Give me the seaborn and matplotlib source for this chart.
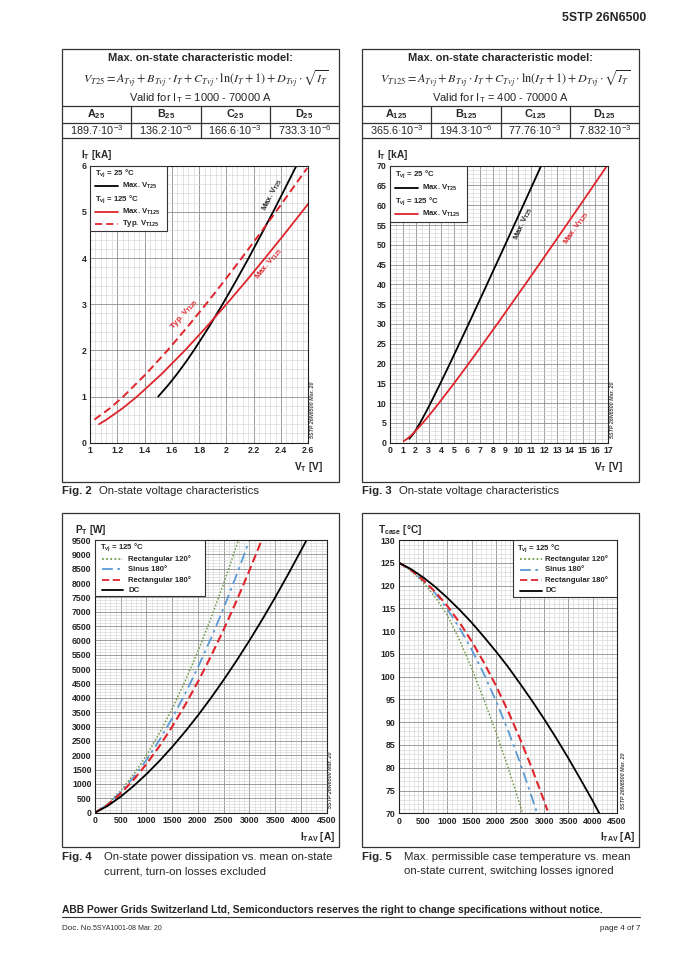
import numpy as np
import pandas as pd
import seaborn as sns
import matplotlib.pyplot as plt
from matplotlib.patches import Rectangle
from matplotlib.lines import Line2D
from matplotlib.ticker import MultipleLocator

# Fig. 2 / Fig. 3 : on-state characteristics (I in kA, V in V)
it25_ka = [1.0, 1.25, 1.5, 1.75, 2.0, 2.5, 3.0, 3.5, 4.0, 4.5, 5.0, 5.5, 6.0]
vt25 = [1.500, 1.574, 1.641, 1.703, 1.761, 1.870, 1.972, 2.069, 2.163, 2.253, 2.342, 2.428, 2.513]
it125_ka = [0.4, 0.5, 0.75, 1.0, 1.5, 2.0, 2.5, 3.0, 3.5, 4.0, 4.5, 5.0, 5.2]
vt125 = [1.066, 1.121, 1.241, 1.345, 1.529, 1.696, 1.851, 2.000, 2.144, 2.283, 2.420, 2.553, 2.606]
typ_i_ka = [0.5, 0.75, 1.0, 1.5, 2.0, 2.5, 3.0, 3.5, 4.0, 4.5, 5.0, 5.5, 5.95]
typ_v = [1.032, 1.148, 1.244, 1.414, 1.568, 1.712, 1.850, 1.983, 2.112, 2.238, 2.362, 2.483, 2.592]

big25_ka = [1, 2, 3, 5, 7.5, 10, 15, 20, 30, 40, 50, 60, 70]
big25_v = [1.500, 1.761, 1.972, 2.342, 2.761, 3.160, 3.925, 4.667, 6.120, 7.550, 8.966, 10.374, 11.776]
big125_ka = [0.4, 1, 2, 3, 5, 7.5, 10, 15, 20, 30, 40, 50, 60, 70]
big125_v = [1.066, 1.345, 1.696, 2.000, 2.553, 3.195, 3.808, 4.987, 6.129, 8.353, 10.528, 12.673, 14.798, 16.906]

# Fig. 4 : on-state power dissipation (A, W)
i_dc = [0, 250, 500, 750, 1000, 1250, 1500, 1750, 2000, 2250, 2500, 2750, 3000, 3250, 3500, 3750, 4000, 4110]
p_dc = [0, 242, 561, 931, 1345, 1800, 2294, 2824, 3391, 3993, 4629, 5298, 6000, 6735, 7503, 8302, 9132, 9500]
i_r180 = [0, 250, 500, 750, 1000, 1250, 1500, 1750, 2000, 2250, 2500, 2750, 3000, 3238]
p_r180 = [0, 280, 672, 1147, 1696, 2314, 3000, 3751, 4566, 5444, 6383, 7383, 8444, 9500]
i_sin = [0, 250, 500, 750, 1000, 1250, 1500, 1750, 2000, 2250, 2500, 2750, 2990]
p_sin = [0, 294, 716, 1233, 1839, 2527, 3296, 4143, 5066, 6064, 7137, 8283, 9450]
i_r120 = [0, 250, 500, 750, 1000, 1250, 1500, 1750, 2000, 2250, 2500, 2785]
p_r120 = [0, 310, 765, 1331, 2000, 2767, 3629, 4584, 5629, 6764, 7988, 9500]

# Fig. 5 : max case temperature (A, degC)
ic_dc = [0, 250, 500, 750, 1000, 1250, 1500, 1750, 2000, 2250, 2500, 2750, 3000, 3250, 3500, 3750, 4000, 4140]
tc_dc = [125, 123.6, 121.8, 119.7, 117.3, 114.7, 111.9, 108.8, 105.6, 102.2, 98.5, 94.7, 90.7, 86.5, 82.1, 77.5, 72.8, 70.0]
ic_r180 = [0, 250, 500, 750, 1000, 1250, 1500, 1750, 2000, 2250, 2500, 2750, 3000, 3070]
tc_r180 = [125, 123.4, 121.2, 118.6, 115.5, 111.9, 107.8, 103.2, 98.1, 92.5, 86.4, 79.8, 72.7, 70.6]
ic_sin = [0, 250, 500, 750, 1000, 1250, 1500, 1750, 2000, 2250, 2500, 2750, 2855]
tc_sin = [125, 123.4, 121.1, 118.3, 114.8, 110.7, 106.0, 100.7, 94.8, 88.3, 81.2, 73.4, 70.0]
ic_r120 = [0, 250, 500, 750, 1000, 1250, 1500, 1750, 2000, 2250, 2500, 2560]
tc_r120 = [125, 123.2, 120.7, 117.4, 113.5, 108.0, 101.9, 95.1, 87.9, 80.2, 71.9, 70.0]

# model tables
heads25 = ['A', 'B', 'C', 'D']
vals25 = ['189.7·10$^{-3}$', '136.2·10$^{-6}$', '166.6·10$^{-3}$', '733.3·10$^{-6}$']
vals125 = ['365.6·10$^{-3}$', '194.3·10$^{-6}$', '77.76·10$^{-3}$', '7.832·10$^{-3}$']

RED = '#e0242c'
BLUE = '#5b9bd5'
GREEN = '#6f9a48'
EDGE = '#333333'

sns.set_theme(style='white')
plt.rcParams['font.family'] = ['Liberation Sans', 'DejaVu Sans']
plt.rcParams['mathtext.fontset'] = 'custom'
plt.rcParams['mathtext.rm'] = 'Liberation Sans'
plt.rcParams['mathtext.it'] = 'Liberation Sans:italic'
plt.rcParams['mathtext.bf'] = 'Liberation Sans:bold'

W, H = 679, 960
fig = plt.figure(figsize=(W / 100, H / 100), dpi=100)
TICK_FS = 6.3
LEG_FS = 5.6
LAB_FS = 7.2


def sub(base, s):
    # subscript in the same (bold) font as the surrounding text
    return base + r'$_{\mathregular{' + s + '}}$'


def fx(x):
    return x / W


def fy(y):
    return 1 - y / H


def ftext(x, y, s, **kw):
    kw.setdefault('va', 'center')
    fig.text(fx(x), fy(y), s, **kw)


def fline(x0, y0, x1, y1, lw=0.9):
    fig.add_artist(Line2D([fx(x0), fx(x1)], [fy(y0), fy(y1)], transform=fig.transFigure, color=EDGE, lw=lw))


def fbox(x0, y0, x1, y1):
    fig.add_artist(Rectangle((fx(x0), fy(y1)), (x1 - x0) / W, (y1 - y0) / H, transform=fig.transFigure,
                             fill=False, ec=EDGE, lw=0.9))


def make_axes(b):
    x0, y0, x1, y1 = b
    return fig.add_axes([fx(x0), fy(y1), (x1 - x0) / W, (y1 - y0) / H])


def setup(ax, xlim, ylim, xticks, xlabels, yticks, xminor, yminor):
    ax.set_xlim(*xlim)
    ax.set_ylim(*ylim)
    ax.set_xticks(xticks, xlabels, fontweight='bold', fontsize=TICK_FS)
    ax.set_yticks(yticks, [str(t) for t in yticks], fontweight='bold', fontsize=TICK_FS)
    ax.xaxis.set_minor_locator(MultipleLocator(xminor))
    ax.yaxis.set_minor_locator(MultipleLocator(yminor))
    ax.grid(which='minor', color='#d2d2d2', lw=0.4)
    ax.grid(which='major', color='#8e8e8e', lw=0.6)
    ax.set_axisbelow(True)
    ax.tick_params(which='both', length=0, pad=2.5)
    for s in ax.spines.values():
        s.set_color('#222222')
        s.set_linewidth(0.8)


def legend_box(ax, b, rect, rows, fs=LEG_FS):
    x0, y0, x1, y1 = b

    def ax_xy(x, y):
        return (x - x0) / (x1 - x0), (y1 - y) / (y1 - y0)

    rx0, ry0, rx1, ry1 = rect
    px, py = ax_xy(rx0, ry1)
    qx, qy = ax_xy(rx1, ry0)
    ax.add_patch(Rectangle((px, py), qx - px, qy - py, transform=ax.transAxes, fc='white', ec=EDGE,
                           lw=0.8, zorder=5))
    for row in rows:
        if row[0] == 'head':
            _, hx, hy, txt = row
            tx, ty = ax_xy(hx, hy)
            ax.text(tx, ty, txt, transform=ax.transAxes, fontsize=fs, fontweight='bold', va='center',
                    zorder=6)
        else:
            _, lx0, lx1, tx_, yy, txt, color, ls = row
            a0, ay = ax_xy(lx0, yy)
            a1, _ = ax_xy(lx1, yy)
            ln = Line2D([a0, a1], [ay, ay], transform=ax.transAxes, color=color, lw=1.3, zorder=6)
            if ls is not None:
                ln.set_dashes(ls)
            ax.add_line(ln)
            tx, _ = ax_xy(tx_, yy)
            ax.text(tx, ay, txt, transform=ax.transAxes, fontsize=fs, fontweight='bold', va='center',
                    zorder=6)


def table(x0, x1, tsub, formula_lhs, valid, vals):
    xc = (x0 + x1) / 2
    ftext(xc, 58, 'Max. on-state characteristic model:', ha='center', fontsize=7.9, fontweight='bold')
    ftext(xc + 5, 78.5, r'$' + formula_lhs + r' = A_{Tvj} + B_{Tvj}\cdot I_T + C_{Tvj}\cdot \ln(I_T + 1)'
          r' + D_{Tvj}\cdot\sqrt{I_T}$', ha='center', fontsize=8.7, math_fontfamily='stix')
    ftext(xc, 98.5, valid, ha='center', fontsize=8.0)
    for y in (105.7, 123, 137.7):
        fline(x0, y, x1, y)
    cw = (x1 - x0) / 4
    for k in range(1, 4):
        fline(x0 + k * cw, 105.7, x0 + k * cw, 137.7)
    for k in range(4):
        cx = x0 + (k + 0.5) * cw
        ftext(cx, 114.5, sub(heads25[k], tsub), ha='center', fontsize=7.8, fontweight='bold')
        ftext(cx, 130.5, vals[k], ha='center', fontsize=7.8)


# ---- page header / frames ----
ftext(646, 18, '5STP 26N6500', ha='right', fontsize=8.8, fontweight='bold')
fbox(62, 49, 339, 482)
fbox(362, 49, 639, 482)
fbox(62, 513, 339, 847)
fbox(362, 513, 639, 847)

table(62, 339, '25', r'\mathbf{\mathit{V}}_{\mathbf{\mathit{T25}}}', sub('Valid for I', 'T') + ' = 1000 - 70000 A',
      vals25)
table(362, 639, '125', r'\mathbf{\mathit{V}}_{\mathbf{\mathit{T125}}}', sub('Valid for I', 'T') + ' = 400 - 70000 A',
      vals125)

# ---- Fig. 2 ----
b2 = (90, 165.7, 308.3, 442.7)
ax2 = make_axes(b2)
setup(ax2, (1, 2.6), (0, 6), np.round(np.arange(1, 2.61, 0.2), 1),
      ['1', '1.2', '1.4', '1.6', '1.8', '2', '2.2', '2.4', '2.6'], list(range(0, 7)), 0.04, 0.2)
sns.lineplot(x=vt25, y=it25_ka, ax=ax2, color='black', lw=1.3, sort=False, estimator=None)
sns.lineplot(x=vt125, y=it125_ka, ax=ax2, color=RED, lw=1.3, sort=False, estimator=None)
sns.lineplot(x=typ_v, y=typ_i_ka, ax=ax2, color=RED, lw=1.4, sort=False, estimator=None)
ax2.lines[-1].set_dashes([4, 2.2])
ax2.text(2.335, 5.38, sub('Max. V', 'T25'), rotation=63, fontsize=LEG_FS, fontweight='bold',
         ha='center', va='center')
ax2.text(2.315, 3.87, sub('Max. V', 'T125'), rotation=51, fontsize=LEG_FS, fontweight='bold',
         color=RED, ha='center', va='center')
ax2.text(1.69, 2.78, sub('Typ. V', 'T125'), rotation=49, fontsize=LEG_FS, fontweight='bold',
         color=RED, ha='center', va='center')
legend_box(ax2, b2, (90, 165.7, 167, 231), [
    ('head', 95, 173, sub('T', 'vj') + ' = 25 °C'),
    ('line', 95, 118, 121.7, 186.3, sub('Max. V', 'T25'), 'black', None),
    ('head', 95, 199, sub('T', 'vj') + ' = 125 °C'),
    ('line', 95, 118, 121.7, 211.5, sub('Max. V', 'T125'), RED, None),
    ('line', 95, 118, 121.7, 223.8, sub('Typ. V', 'T125'), RED, [4, 2.2]),
])
ftext(81, 155, sub('I', 'T') + ' [kA]', fontsize=LAB_FS, fontweight='bold')
ftext(323, 467, sub('V', 'T') + ' [V]', ha='right', fontsize=LAB_FS, fontweight='bold')
ftext(312.5, 410, '5STP 26N6500 Mar. 20', rotation=90, ha='center', fontsize=3.9, fontstyle='italic',
      fontweight='bold', color='#444444')

# ---- Fig. 3 ----
b3 = (390, 165.7, 608.3, 442.7)
ax3 = make_axes(b3)
setup(ax3, (0, 17), (0, 70), list(range(0, 18)), [str(v) for v in range(0, 18)],
      list(range(0, 71, 5)), 0.5, 1)
sns.lineplot(x=big25_v, y=big25_ka, ax=ax3, color='black', lw=1.3, sort=False, estimator=None)
sns.lineplot(x=big125_v, y=big125_ka, ax=ax3, color=RED, lw=1.3, sort=False, estimator=None)
ax3.text(10.39, 55.4, sub('Max. V', 'T25'), rotation=66, fontsize=LEG_FS, fontweight='bold',
         ha='center', va='center')
ax3.text(14.5, 54.2, sub('Max. V', 'T125'), rotation=56, fontsize=LEG_FS, fontweight='bold',
         color=RED, ha='center', va='center')
legend_box(ax3, b3, (390, 165.7, 467, 222), [
    ('head', 395, 174.3, sub('T', 'vj') + ' = 25 °C'),
    ('line', 395, 418, 421.7, 187.7, sub('Max. V', 'T25'), 'black', None),
    ('head', 395, 201, sub('T', 'vj') + ' = 125 °C'),
    ('line', 395, 418, 421.7, 214.3, sub('Max. V', 'T125'), RED, None),
])
ftext(377, 155, sub('I', 'T') + ' [kA]', fontsize=LAB_FS, fontweight='bold')
ftext(623, 467, sub('V', 'T') + ' [V]', ha='right', fontsize=LAB_FS, fontweight='bold')
ftext(612.5, 410, '5STP 26N6500 Mar. 20', rotation=90, ha='center', fontsize=3.9, fontstyle='italic',
      fontweight='bold', color='#444444')

ftext(62, 491, 'Fig. 2', fontsize=8.2, fontweight='bold')
ftext(99, 491, 'On-state voltage characteristics', fontsize=8.2)
ftext(362, 491, 'Fig. 3', fontsize=8.2, fontweight='bold')
ftext(399, 491, 'On-state voltage characteristics', fontsize=8.2)

# ---- Fig. 4 ----
b4 = (95, 540, 326.7, 812.7)
ax4 = make_axes(b4)
setup(ax4, (0, 4500), (0, 9500), list(range(0, 4501, 500)), [str(v) for v in range(0, 4501, 500)],
      list(range(0, 9501, 500)), 100, 100)
sns.lineplot(x=i_r120, y=p_r120, ax=ax4, color=GREEN, lw=1.1, sort=False, estimator=None)
ax4.lines[-1].set_dashes([1, 1.3])
sns.lineplot(x=i_sin, y=p_sin, ax=ax4, color=BLUE, lw=1.3, sort=False, estimator=None)
ax4.lines[-1].set_dashes([6, 2.5, 1.5, 2.5])
sns.lineplot(x=i_r180, y=p_r180, ax=ax4, color=RED, lw=1.5, sort=False, estimator=None)
ax4.lines[-1].set_dashes([4, 2])
sns.lineplot(x=i_dc, y=p_dc, ax=ax4, color='black', lw=1.3, sort=False, estimator=None)
legend_box(ax4, b4, (95, 540, 205, 596), [
    ('head', 100, 547.5, sub('T', 'vj') + ' = 125 °C'),
    ('line', 101.7, 123.3, 128.3, 558.8, 'Rectangular 120°', GREEN, [1, 1.3]),
    ('line', 101.7, 123.3, 128.3, 569.3, 'Sinus 180°', BLUE, [6, 2.5, 1.5, 2.5]),
    ('line', 101.7, 123.3, 128.3, 579.8, 'Rectangular 180°', RED, [4, 2]),
    ('line', 101.7, 123.3, 128.3, 590.3, 'DC', 'black', None),
])
ftext(75, 530, sub('P', 'T') + ' [W]', fontsize=LAB_FS, fontweight='bold')
ftext(335, 837, sub('I', 'TAV') + ' [A]', ha='right', fontsize=LAB_FS, fontweight='bold')
ftext(330.5, 780, '5STP 26N6500 Mar. 20', rotation=90, ha='center', fontsize=3.9, fontstyle='italic',
      fontweight='bold', color='#444444')

# ---- Fig. 5 ----
b5 = (399, 540, 616.7, 813.3)
ax5 = make_axes(b5)
setup(ax5, (0, 4500), (70, 130), list(range(0, 4501, 500)), [str(v) for v in range(0, 4501, 500)],
      list(range(70, 131, 5)), 100, 1)
sns.lineplot(x=ic_r120, y=tc_r120, ax=ax5, color=GREEN, lw=1.1, sort=False, estimator=None)
ax5.lines[-1].set_dashes([1, 1.3])
sns.lineplot(x=ic_sin, y=tc_sin, ax=ax5, color=BLUE, lw=1.3, sort=False, estimator=None)
ax5.lines[-1].set_dashes([6, 2.5, 1.5, 2.5])
sns.lineplot(x=ic_r180, y=tc_r180, ax=ax5, color=RED, lw=1.5, sort=False, estimator=None)
ax5.lines[-1].set_dashes([4, 2])
sns.lineplot(x=ic_dc, y=tc_dc, ax=ax5, color='black', lw=1.3, sort=False, estimator=None)
legend_box(ax5, b5, (513, 540, 616.7, 597), [
    ('head', 517.3, 548, sub('T', 'vj') + ' = 125 °C'),
    ('line', 520, 541.7, 545, 559, 'Rectangular 120°', GREEN, [1, 1.3]),
    ('line', 520, 541.7, 545, 569.5, 'Sinus 180°', BLUE, [6, 2.5, 1.5, 2.5]),
    ('line', 520, 541.7, 545, 580, 'Rectangular 180°', RED, [4, 2]),
    ('line', 520, 541.7, 545, 590.5, 'DC', 'black', None),
])
ftext(378, 530, sub('T', 'case') + ' [°C]', fontsize=LAB_FS, fontweight='bold')
ftext(635, 837, sub('I', 'TAV') + ' [A]', ha='right', fontsize=LAB_FS, fontweight='bold')
ftext(623.5, 781, '5STP 26N6500 Mar. 20', rotation=90, ha='center', fontsize=3.9, fontstyle='italic',
      fontweight='bold', color='#444444')

ftext(62, 857, 'Fig. 4', fontsize=8.2, fontweight='bold')
ftext(104, 857, 'On-state power dissipation vs. mean on-state', fontsize=8.2)
ftext(104, 871, 'current, turn-on losses excluded', fontsize=8.2)
ftext(362, 857, 'Fig. 5', fontsize=8.2, fontweight='bold')
ftext(404, 857, 'Max. permissible case temperature vs. mean', fontsize=8.2)
ftext(404, 871, 'on-state current, switching losses ignored', fontsize=8.2)

# ---- footer ----
ftext(62, 910, 'ABB Power Grids Switzerland Ltd, Semiconductors reserves the right to change '
      'specifications without notice.', fontsize=7.35, fontweight='bold')
fline(62, 917, 640, 917, lw=0.8)
ftext(62, 928.5, 'Doc. No.', fontsize=5.8)
ftext(93, 928.5, '5SYA1001-08 Mar. 20', fontsize=5.0)
ftext(640, 928.5, 'page 4 of 7', ha='right', fontsize=5.8)

fig.savefig('out.png', dpi=100)
